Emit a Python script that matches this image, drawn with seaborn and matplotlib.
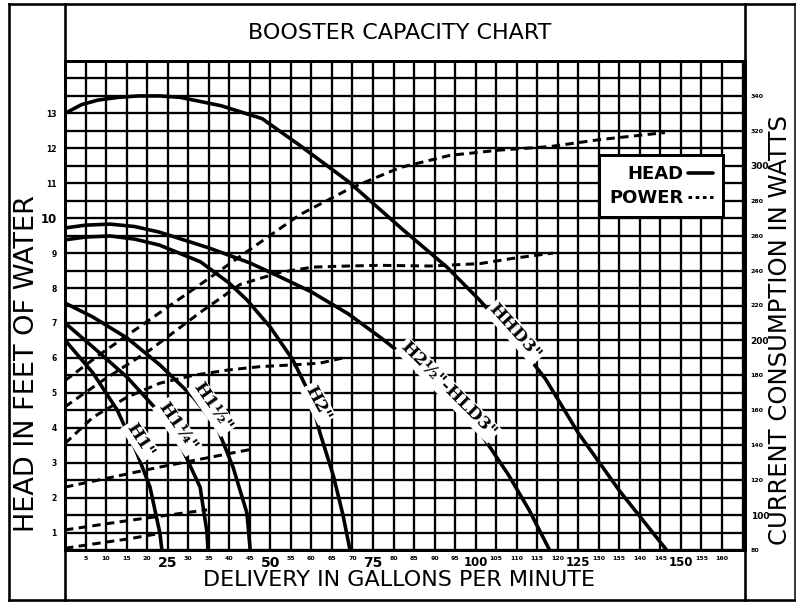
import matplotlib
matplotlib.use("Agg")
import matplotlib.pyplot as plt
import numpy as np
import pandas as pd
import seaborn as sns
from matplotlib.lines import Line2D

# ---------------- head curves: delivery (gpm) vs head (feet of water) ----------------
hhd3_gpm = [0, 4, 8, 13, 18, 23, 28, 38, 48, 57, 69, 82, 93, 101, 109, 117, 125, 135, 146.5]
hhd3_head = [13.0, 13.25, 13.38, 13.46, 13.5, 13.5, 13.46, 13.22, 12.85, 12.1, 11.05, 9.7, 8.6,
             7.65, 6.6, 5.4, 3.85, 2.2, 0.5]

h2half_gpm = [0, 5, 11, 17, 23, 35, 45, 52, 60, 69, 77, 85, 93, 101, 108, 113, 118]
h2half_head = [9.72, 9.8, 9.83, 9.76, 9.6, 9.15, 8.72, 8.34, 7.89, 7.26, 6.57, 5.83, 4.94, 3.88,
               2.65, 1.65, 0.5]

h2_gpm = [0, 5, 11, 17, 23, 33, 40, 44.3, 50, 55.5, 59.7, 62.1, 65.3, 67.7, 69.4]
h2_head = [9.38, 9.46, 9.49, 9.4, 9.23, 8.75, 8.14, 7.66, 6.88, 5.94, 4.94, 3.85, 2.65, 1.5, 0.5]

h1half_gpm = [0, 6.8, 15.1, 23.1, 31.2, 37, 40.9, 44.3, 45.1]
h1half_head = [7.57, 7.17, 6.57, 5.8, 4.88, 4.02, 2.88, 1.56, 0.5]

h1quarter_gpm = [0, 6.8, 15.1, 23.1, 28.7, 32.9, 34.6, 34.8]
h1quarter_head = [7.0, 6.31, 5.45, 4.42, 3.36, 2.3, 0.99, 0.5]

h1_gpm = [0, 6.8, 12.7, 17.5, 20.7, 23.1, 23.6]
h1_head = [6.51, 5.57, 4.51, 3.28, 2.3, 0.99, 0.5]

# ---------------- power curves: delivery (gpm) vs watts ----------------
hhd3_pw_gpm = [0, 8.5, 20.7, 32.9, 45, 57.2, 69.4, 81.6, 93.8, 105.9, 118.1, 130.3, 146.1]
hhd3_pw_watts = [177, 192, 212, 232, 252, 272, 287, 299, 306, 309, 311, 315, 319]

h2half_pw_gpm = [0, 8.5, 20.7, 32.9, 42.6, 52.4, 60.4, 68.7, 76.7, 88.9, 101.1, 109.1, 118.8]
h2half_pw_watts = [162, 176, 194.5, 216, 232, 239, 242, 242.6, 243, 242.6, 244, 247, 250]

h2_pw_gpm = [0, 6.8, 15.1, 23.1, 31.2, 39.5, 47.5, 55.5, 62.1, 68.7]
h2_pw_watts = [141, 156, 167.5, 175.5, 180, 183, 185, 186, 187, 190.5]

h1half_pw_gpm = [0, 23.1, 45]
h1half_pw_watts = [116, 127.5, 137.5]

h1quarter_pw_gpm = [0, 15.8, 34.6]
h1quarter_pw_watts = [91.5, 97, 103]

h1_pw_gpm = [0, 8.5, 15.8, 23.1]
h1_pw_watts = [81, 84, 86.5, 89.5]

pumps = ['HHD3"', 'H2½"-HLD3"', 'H2"', 'H1½"', 'H1¼"', 'H1"']

# curve captions: (gpm, feet, rotation)
label_gpm = [109.6, 93.3, 61.6, 35.8, 27.3, 18.3]
label_head = [6.74, 5.08, 4.71, 4.59, 4.02, 3.65]
label_rot = [-48, -45, -62, -55, -55, -57]

# ---------------- axis ticks ----------------
x_tick_values = list(range(5, 165, 5))
x_big_ticks = [25, 50, 75, 100, 125, 150]
head_tick_values = list(range(1, 14))
watt_tick_values = list(range(80, 360, 20))
watt_big_ticks = [100, 200, 300]

head_frames = [(hhd3_gpm, hhd3_head), (h2half_gpm, h2half_head), (h2_gpm, h2_head),
               (h1half_gpm, h1half_head), (h1quarter_gpm, h1quarter_head), (h1_gpm, h1_head)]
power_frames = [(hhd3_pw_gpm, hhd3_pw_watts), (h2half_pw_gpm, h2half_pw_watts),
                (h2_pw_gpm, h2_pw_watts), (h1half_pw_gpm, h1half_pw_watts),
                (h1quarter_pw_gpm, h1quarter_pw_watts), (h1_pw_gpm, h1_pw_watts)]

head_df = pd.concat([pd.DataFrame({"gpm": g, "head": h, "pump": p})
                     for p, (g, h) in zip(pumps, head_frames)], ignore_index=True)
power_df = pd.concat([pd.DataFrame({"gpm": g, "watts": w, "pump": p})
                      for p, (g, w) in zip(pumps, power_frames)], ignore_index=True)

sns.set_style("white")
plt.rcParams['font.family'] = ['DejaVu Sans']
plt.rcParams['text.color'] = 'black'
plt.rcParams['xtick.color'] = 'black'
plt.rcParams['ytick.color'] = 'black'

W, H = 796, 605
PX = 0.72  # one pixel in points at 100 dpi
fig = plt.figure(figsize=(W / 100, H / 100), dpi=100)
fig.patch.set_facecolor("white")

ax = fig.add_axes([65 / W, 1 - 550 / H, 680 / W, 489 / H])
ax.set_xlim(0, 165.6)
ax.set_ylim(0.5, 14.5)

# the dense chart grid: every 5 gpm and every half foot
grid_x = np.arange(0, 166, 5)
grid_y = np.arange(0.5, 14.51, 0.5)
ax.set_xticks(grid_x)
ax.set_yticks(grid_y)
ax.grid(True, color="black", linewidth=2.3 * PX)
ax.set_axisbelow(True)
for s in ax.spines.values():
    s.set_linewidth(3 * PX)
    s.set_color("black")

ax.set_xticklabels([str(int(v)) if int(v) in x_tick_values else "" for v in grid_x])
for lab, v in zip(ax.get_xticklabels(), grid_x):
    if int(v) in x_big_ticks:
        lab.set_fontsize(10 if v < 100 else 8.5)
    else:
        lab.set_fontsize(4.5)
    lab.set_fontweight("bold")
ax.set_yticklabels([str(int(v)) if (v == int(v) and int(v) in head_tick_values) else ""
                    for v in grid_y])
for lab, v in zip(ax.get_yticklabels(), grid_y):
    lab.set_fontsize(8.5 if v == 10 else 5.5)
    lab.set_fontweight("bold")
ax.tick_params(axis="both", length=0)
ax.tick_params(axis="x", pad=4)
ax.tick_params(axis="y", pad=6)

palette = {p: "black" for p in pumps}
sns.lineplot(data=head_df, x="gpm", y="head", hue="pump", palette=palette,
             sort=False, estimator=None, linewidth=3.6 * PX, legend=False, ax=ax,
             solid_capstyle="butt", zorder=3)
ax.set_xlabel("")
ax.set_ylabel("")

ax2 = ax.twinx()
ax2.set_ylim(80, 360)
sns.lineplot(data=power_df, x="gpm", y="watts", hue="pump", palette=palette,
             sort=False, estimator=None, linewidth=3.0 * PX, legend=False, ax=ax2,
             linestyle=(0, (2.8, 1.8)), zorder=3)
ax2.set_xlim(0, 165.6)
ax2.set_yticks(watt_tick_values)
ax2.set_yticklabels([str(v) for v in watt_tick_values])
for lab, v in zip(ax2.get_yticklabels(), watt_tick_values):
    lab.set_fontsize(6.5 if v in watt_big_ticks else 4.5)
    lab.set_fontweight("bold")
ax2.tick_params(axis="y", length=0, pad=4)
ax2.grid(False)
ax2.set_ylabel("")
ax2.set_xlabel("")
for s in ax2.spines.values():
    s.set_visible(False)

# captions written along each head curve
for name, gx, hy, rot in zip(pumps, label_gpm, label_head, label_rot):
    ax.text(gx, hy, name, rotation=rot, rotation_mode="anchor", ha="center", va="center",
            fontsize=12.5, fontweight="bold", family="DejaVu Serif", zorder=5,
            bbox=dict(boxstyle="square,pad=0.1", fc="white", ec="none"))

# legend box
handles = [Line2D([], [], color="black", lw=3.6 * PX),
           Line2D([], [], color="black", lw=3.0 * PX, linestyle=(0, (1.2, 1.2)))]
leg = fig.legend(handles, ["HEAD", "POWER"], loc="upper right",
                 bbox_to_anchor=(723 / W, 1 - 155 / H), bbox_transform=fig.transFigure,
                 markerfirst=False, frameon=True, fancybox=False,
                 prop={"size": 13, "weight": "bold"},
                 handlelength=1.4, handletextpad=0.25, borderpad=0.55, labelspacing=0.35,
                 borderaxespad=0)
leg.get_frame().set_edgecolor("black")
leg.get_frame().set_linewidth(3 * PX)
leg.get_frame().set_facecolor("white")
leg.get_frame().set_alpha(1)
leg.set_zorder(10)

# border and panel rules of the sheet
def rule(x0, y0, x1, y1, lw=2.6):
    fig.add_artist(Line2D([x0 / W, x1 / W], [1 - y0 / H, 1 - y1 / H],
                          transform=fig.transFigure, color="black", lw=lw * PX,
                          solid_capstyle="projecting"))

rule(9, 4, 795, 4)
rule(9, 600, 795, 600)
rule(9, 4, 9, 600)
rule(795, 4, 795, 600, lw=1.5)
rule(65, 4, 65, 600)
rule(745, 4, 745, 600)

fig.text(400 / W, 1 - 33 / H, "BOOSTER CAPACITY CHART", ha="center", va="center",
         fontsize=16)
fig.text(399 / W, 1 - 580 / H, "DELIVERY IN GALLONS PER MINUTE", ha="center", va="center",
         fontsize=16)
fig.text(27 / W, 1 - 364 / H, "HEAD IN FEET OF WATER", ha="center", va="center",
         rotation=90, fontsize=19.5)
fig.text(780 / W, 1 - 330 / H, "CURRENT CONSUMPTION IN WATTS", ha="center", va="center",
         rotation=90, fontsize=17.5)

fig.savefig("out.png", dpi=100, facecolor="white")
